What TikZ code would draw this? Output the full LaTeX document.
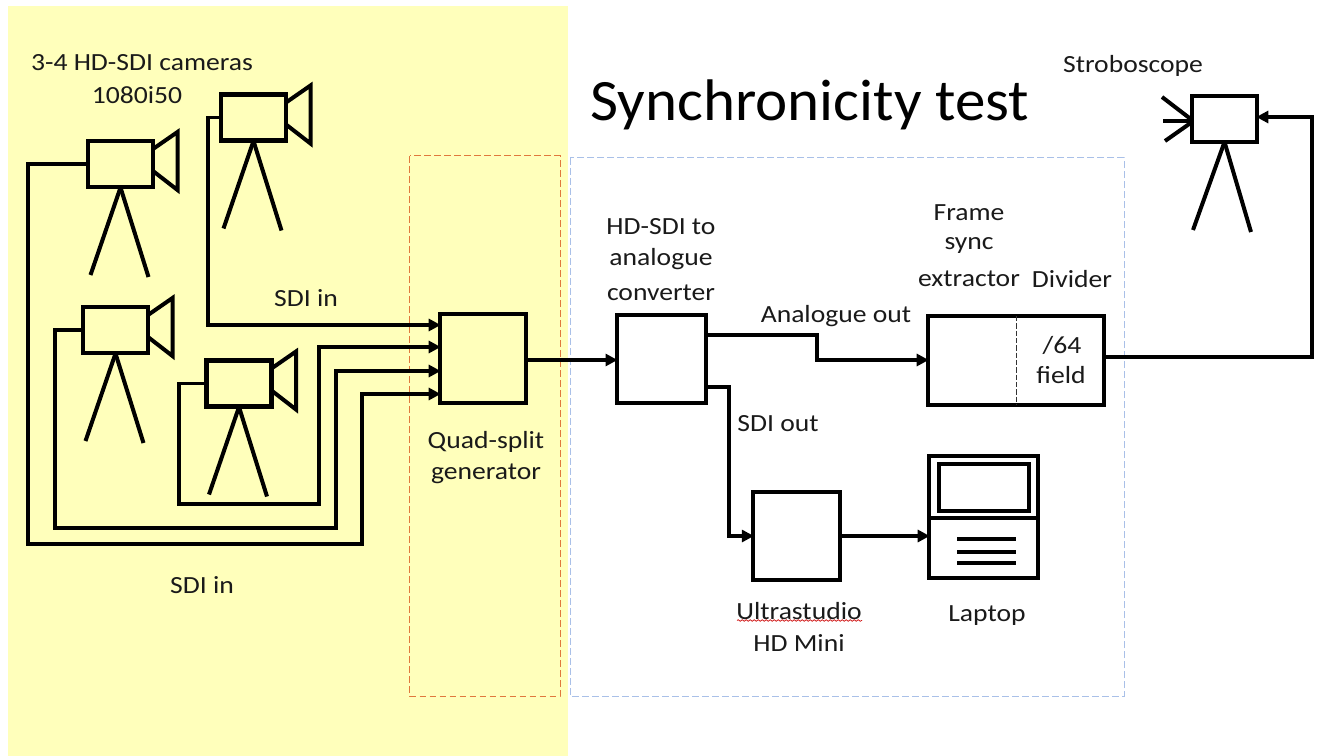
\documentclass[tikz,border=0pt]{standalone}
\usepackage{fontspec}
\setmainfont{Carlito}
\newfontfamily\widesans[FakeStretch=1.12]{Carlito}
\newfontfamily\titlesans[FakeStretch=1.04]{Carlito}
\usetikzlibrary{arrows.meta,decorations.pathmorphing}
\definecolor{padyellow}{HTML}{FFFFBB}
\definecolor{inkblack}{HTML}{1A1A1A}
\definecolor{dashred}{HTML}{E0783C}
\definecolor{dashblue}{HTML}{A9C0E8}
\tikzset{
  boxnode/.style={draw=black,line width=3.3pt,outer sep=0pt,inner sep=0pt},
  wire/.style={draw=black,line width=2.8pt,line join=miter},
  feed/.style={wire,-{Triangle[length=9pt,width=9pt]},shorten >=-0.5pt},
  limb/.style={draw=black,line width=3pt},
  label/.style={text=inkblack,font=\widesans\fontsize{18.5}{20}\selectfont,inner sep=0pt,anchor=center,yshift=-0.75pt},
  region/.style={draw,line width=0.75pt,dash pattern=on 5pt off 2.5pt},
}
\newcommand{\cameraicon}[3]{%
  \node[boxnode,minimum width=48.75pt,minimum height=34.5pt] (#1) at (#2,#3) {};
  \begin{scope}[shift={(#2,#3)}]
    \draw[limb] (32.5,-15) -- (57,-32) -- (57,26) -- (32.5,7);
    \draw[limb] (0,23.5) -- (-30,111);
    \draw[limb] (0,23.5) -- (28,113);
  \end{scope}}
\begin{document}
\begin{tikzpicture}[x=0.75pt,y=-0.75pt]
\useasboundingbox (0,0) rectangle (1320,756);
\fill[white] (0,0) rectangle (1320,756);
\fill[padyellow] (8,6) rectangle (568,756);
\draw[region,dashred] (409.5,156) rectangle (560,696);
\draw[region,dashblue] (570,158) rectangle (1124,696);

\cameraicon{camA}{120.5}{164}
\cameraicon{camB}{253.5}{117.5}
\cameraicon{camC}{115.5}{330}
\cameraicon{camD}{239}{383.5}

\node[boxnode,minimum width=64.5pt,minimum height=66.75pt] (quad) at (483,358.5) {};
\node[boxnode,minimum width=67pt,minimum height=66pt] (conv) at (661.5,359) {};
\node[boxnode,minimum width=132pt,minimum height=66.75pt] (frame) at (1016,360.5) {};
\node[boxnode,minimum width=65pt,minimum height=66pt] (ultra) at (796.5,536) {};
\node[boxnode,minimum width=81.75pt,minimum height=91.5pt] (laptop) at (983.5,517) {};
\node[boxnode,minimum width=67.5pt,minimum height=35.25pt] (screen) at (984,487.5) {};
\node[boxnode,minimum width=48.75pt,minimum height=34.5pt] (strobe) at (1224.5,119) {};

\draw[limb] (laptop.west |- 0,518) -- (laptop.east |- 0,518);
\draw[limb] (957,539) -- (1016,539);
\draw[limb] (957,552) -- (1016,552);
\draw[limb] (957,563) -- (1016,563);
\draw[draw=black!80,line width=0.6pt,dash pattern=on 4pt off 1.5pt] (frame.north) -- (frame.south);

\draw[limb] (1162,97) -- (1192,120);
\draw[limb] (1163,121) -- (1192,121);
\draw[limb] (1165,141) -- (1192,122);
\draw[limb] (strobe.south) -- (1193,230);
\draw[limb] (strobe.south) -- (1251,232);

\coordinate (inA) at (440,325);
\coordinate (inB) at (440,347);
\coordinate (inC) at (440,371);
\coordinate (inD) at (440,394);
\coordinate (frameIn) at (928,360);
\coordinate (convHi) at (706,335);
\coordinate (convLo) at (706,387);
\coordinate (frameOut) at (1104,357);
\coordinate (strobeIn) at (1257,117);

\draw[feed] (camB.west) -- (208,117.5) |- (inA);
\draw[feed] (camD.west) -| (179,504) -- (319,504) |- (inB);
\draw[feed] (camC.west) -| (55,528) -- (336,528) |- (inC);
\draw[feed] (camA.west) -| (28,544) -- (362,544) |- (inD);
\draw[feed] (quad.east |- 0,360) -- (conv.west |- 0,360);
\draw[feed] (convHi) -| (817,360) -- (frameIn);
\draw[feed] (convLo) -| (729,536) -- (ultra.west);
\draw[feed] (ultra.east) -- (laptop.west |- ultra.east);
\draw[feed] (frameOut) -- (1312,357) |- (strobeIn);

\node[label] (tcam) at (142,62) {3-4 HD-SDI cameras};
\node[label] (tfmt) at (137,94) {1080i50};
\node[label] (tsdia) at (306,297) {SDI in};
\node[label] (tsdib) at (202,584) {SDI in};
\node[label] (tquad) at (486,441) {Quad-split};
\node[label] (tgen) at (486,473) {generator};
\node[text=black,font=\titlesans\fontsize{44}{48}\selectfont,inner sep=0pt] (title) at (810,105) {Synchronicity test};
\node[label] (thd) at (661,226) {HD-SDI to};
\node[label] (tana) at (661,258) {analogue};
\node[label] (tcon) at (661,292) {converter};
\node[label] (tframe) at (969,212) {Frame};
\node[label] (tsync) at (969,245) {sync};
\node[label] (text) at (969,278) {extractor};
\node[label] (tdiv) at (1072,278) {Divider};
\node[label] (t64) at (1062,344) {/64};
\node[label] (tfield) at (1061,374) {field};
\node[label] (tanout) at (836,315) {Analogue out};
\node[label] (tsdiout) at (778,423) {SDI out};
\node[label] (tultra) at (799,610) {Ultrastudio};
\node[label] (tmini) at (799,642) {HD Mini};
\node[label] (tlap) at (987,615) {Laptop};
\node[label] (tstrobe) at (1133,65) {Stroboscope};
\draw[red!80!black,line width=0.5pt,decorate,decoration={snake,amplitude=0.6pt,segment length=3pt}] (737,620.5) -- (862,620.5);
\end{tikzpicture}
\end{document}
